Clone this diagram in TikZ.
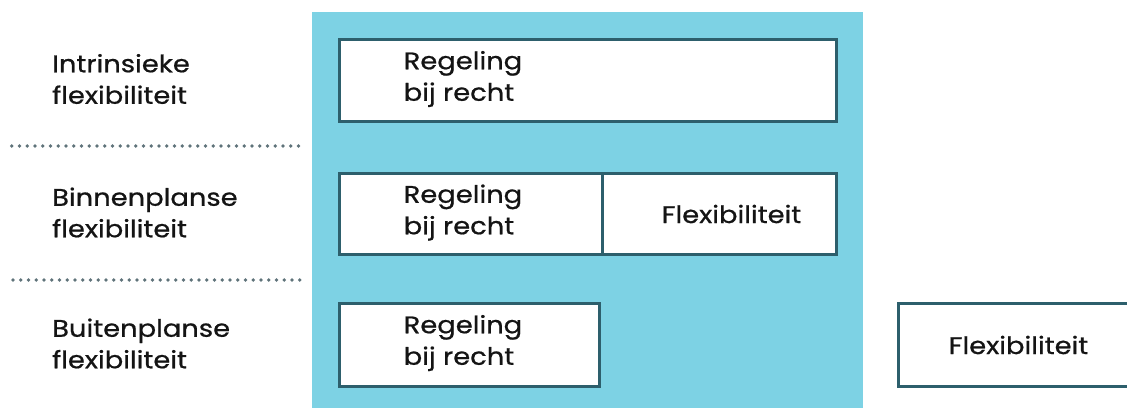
\documentclass[tikz,border=0pt]{standalone}
\usepackage{fontspec}
\setmainfont{Poppins}[FakeStretch=1.14,FakeBold=0.7]
\definecolor{bluebg}{RGB}{125,210,228}
\definecolor{edgec}{RGB}{45,95,108}
\definecolor{dotc}{RGB}{95,115,122}
\definecolor{inkc}{RGB}{20,20,20}
\begin{document}
\begin{tikzpicture}[x=1pt,y=-1pt,
  boxc/.style={draw=edgec, line width=3pt, fill=white, inner sep=0pt, outer sep=0pt},
  txt/.style={font=\fontsize{24}{31.5}\selectfont, align=left, inner sep=0pt, text=inkc},
  dotline/.style={draw=dotc, line width=3.8pt, line cap=round, dash pattern=on 0pt off 7.75pt}]
\useasboundingbox (0,0) rectangle (1127,407);
\clip (0,0) rectangle (1127,407);
% blue field
\fill[bluebg] (311.7,12) rectangle (862.7,412);
% boxes
\node[boxc, minimum width=497pt, minimum height=81.3pt] (b1) at (588.2,80.35) {};
\node[boxc, minimum width=262.3pt, minimum height=81pt] (b2l) at (470.85,214) {};
\node[boxc, minimum width=234.7pt, minimum height=81pt] (b2r) at (719.35,214) {};
\node[boxc, minimum width=260pt, minimum height=82.6pt] (b3) at (469.7,345) {};
\node[boxc, minimum width=241.3pt, minimum height=82.6pt] (b4) at (1019.35,345) {};
% box texts
\node[txt, anchor=west] (t1) at (403.5,79) {Regeling\\bij recht};
\node[txt, anchor=west] (t2) at (403.5,212.5) {Regeling\\bij recht};
\node[txt, anchor=west] (t3) at (403.5,343) {Regeling\\bij recht};
\node[txt] (t2r) at (731.5,214) {Flexibiliteit};
\node[txt] (t4) at (1018.5,345) {Flexibiliteit};
% left labels
\node[txt, anchor=west] (l1) at (52,79) {Intrinsieke\\flexibiliteit};
\node[txt, anchor=west] (l2) at (52,212.5) {Binnenplanse\\flexibiliteit};
\node[txt, anchor=west] (l3) at (52,343.5) {Buitenplanse\\flexibiliteit};
% dotted separators
\coordinate (d1a) at (11.7,146);
\coordinate (d1b) at (302,146);
\coordinate (d2a) at (13,280);
\coordinate (d2b) at (303,280);
\draw[dotline] (d1a) -- (d1b);
\draw[dotline] (d2a) -- (d2b);
\end{tikzpicture}
\end{document}
